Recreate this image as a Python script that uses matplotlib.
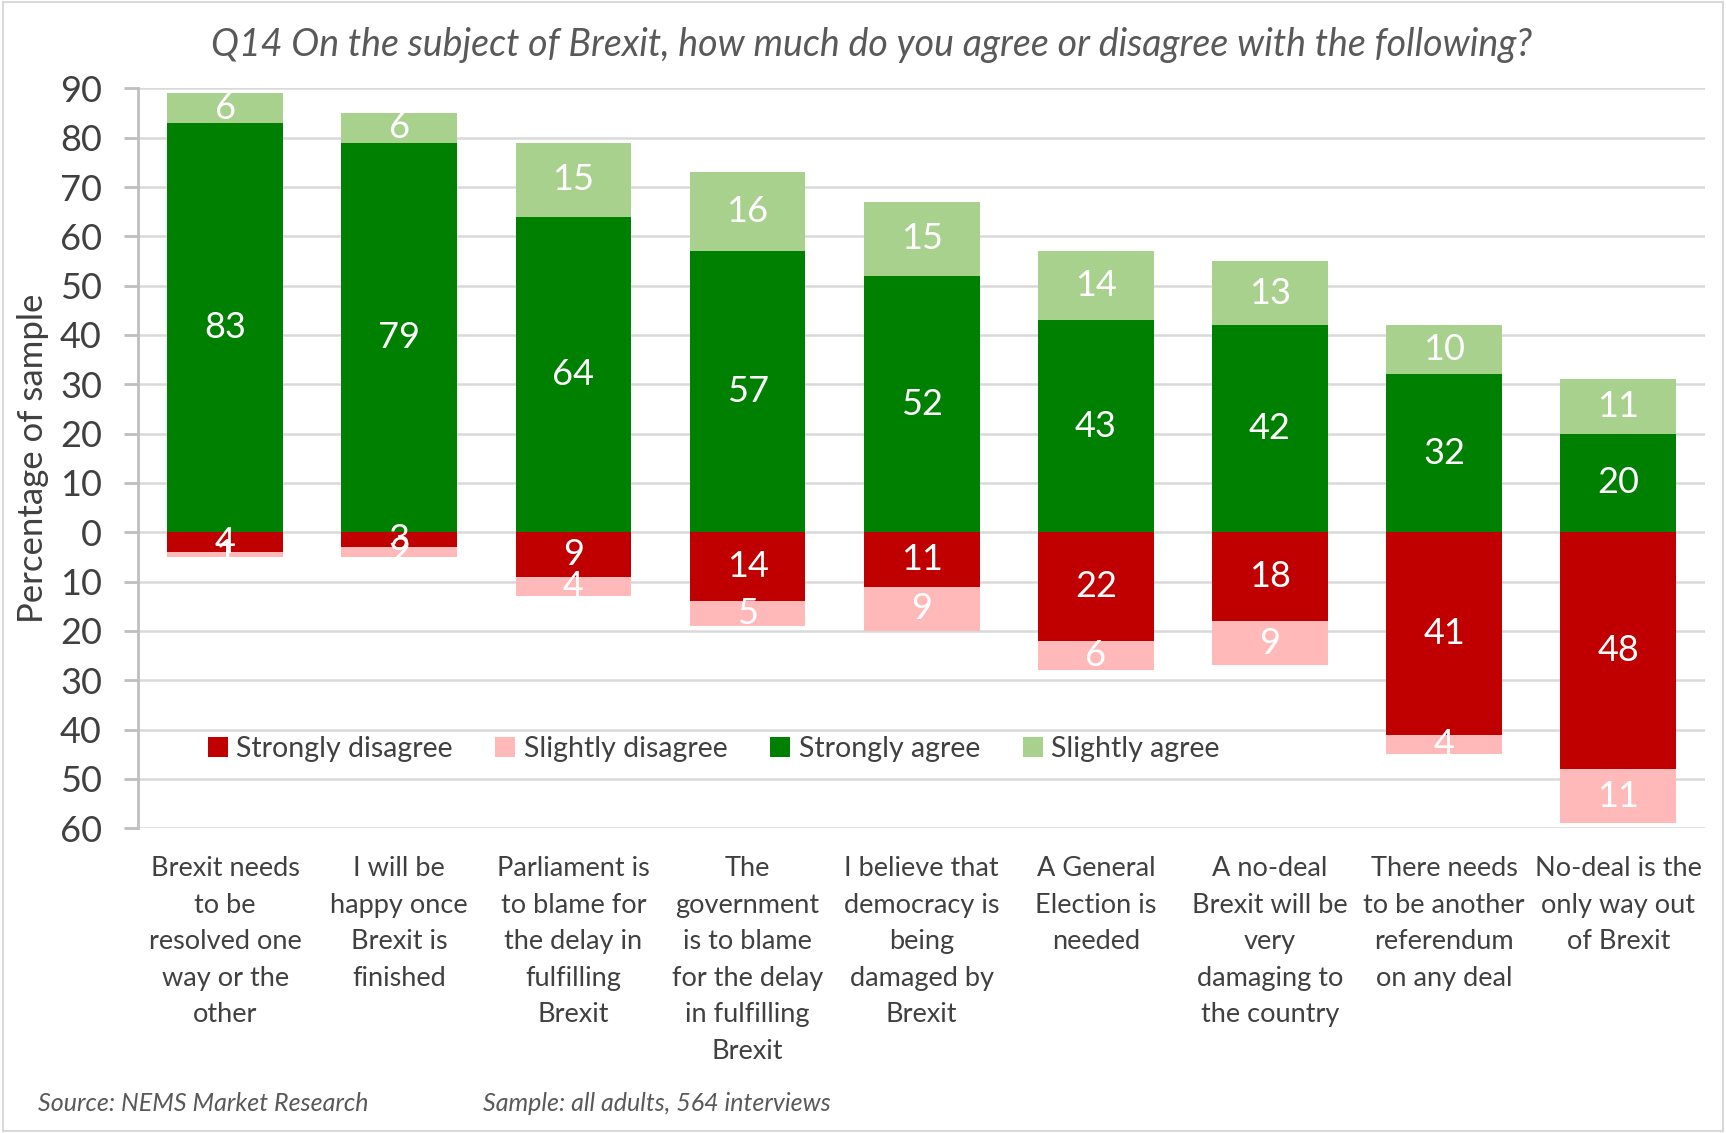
import numpy as np
import matplotlib.pyplot as plt
from matplotlib.patches import Rectangle

plt.rcParams['font.family'] = ['Lato', 'DejaVu Sans']

categories = [
    "Brexit needs\nto be\nresolved one\nway or the\nother",
    "I will be\nhappy once\nBrexit is\nfinished",
    "Parliament is\nto blame for\nthe delay in\nfulfilling\nBrexit",
    "The\ngovernment\nis to blame\nfor the delay\nin fulfilling\nBrexit",
    "I believe that\ndemocracy is\nbeing\ndamaged by\nBrexit",
    "A General\nElection is\nneeded",
    "A no-deal\nBrexit will be\nvery\ndamaging to\nthe country",
    "There needs\nto be another\nreferendum\non any deal",
    "No-deal is the\nonly way out\nof Brexit",
]
strongly_agree = [83, 79, 64, 57, 52, 43, 42, 32, 20]
slightly_agree = [6, 6, 15, 16, 15, 14, 13, 10, 11]
strongly_disagree = [4, 3, 9, 14, 11, 22, 18, 41, 48]
slightly_disagree = [1, 2, 4, 5, 9, 6, 9, 4, 11]

c_sd = '#C00000'
c_sld = '#FFB9B9'
c_sa = '#008000'
c_sla = '#A9D18E'

fig = plt.figure(figsize=(17.26, 11.33), dpi=100)
ax = fig.add_axes([0.080, 0.269, 0.908, 0.653])

x = np.arange(len(categories))
w = 0.665
sa = np.array(strongly_agree)
sla = np.array(slightly_agree)
sd = np.array(strongly_disagree)
sld = np.array(slightly_disagree)

ax.bar(x, -sd, w, color=c_sd, label='Strongly disagree', zorder=3)
ax.bar(x, -sld, w, bottom=-sd, color=c_sld, label='Slightly disagree', zorder=3)
ax.bar(x, sa, w, color=c_sa, label='Strongly agree', zorder=3)
ax.bar(x, sla, w, bottom=sa, color=c_sla, label='Slightly agree', zorder=3)

lab_kw = dict(ha='center', va='center', color='white', fontsize=26, zorder=5)
for i in range(len(x)):
    ax.text(x[i], -sd[i] - sld[i] / 2, str(sld[i]), **lab_kw)
    ax.text(x[i], -sd[i] / 2, str(sd[i]), **lab_kw)
    ax.text(x[i], sa[i] / 2, str(sa[i]), **lab_kw)
    ax.text(x[i], sa[i] + sla[i] / 2, str(sla[i]), **lab_kw)

ax.set_xlim(-0.5, len(x) - 0.5)
ax.set_ylim(-60, 90)
yt = np.arange(-60, 91, 10)
ax.set_yticks(yt)
ax.set_yticklabels([str(abs(v)) for v in yt], fontsize=26, color='#404040')
ax.set_xticks(x)
ax.set_xticklabels(categories, fontsize=19.5, color='#404040', linespacing=1.58)
ax.tick_params(axis='x', length=0, pad=20)
ax.tick_params(axis='y', length=10, width=2, color='#BFBFBF', pad=16)
ax.yaxis.grid(True, color='#D9D9D9', linewidth=1.8, zorder=0)
for s in ['top', 'right', 'bottom']:
    ax.spines[s].set_visible(False)
ax.spines['left'].set_color('#BFBFBF')
ax.spines['left'].set_linewidth(2)
ax.set_ylabel('Percentage of sample', fontsize=25, color='#404040', labelpad=8)

ax.legend(loc='center left', bbox_to_anchor=(0.028, 0.107), ncol=4, frameon=False,
          fontsize=20.5, handlelength=0.7, handleheight=0.7, handletextpad=0.3,
          columnspacing=1.5, labelcolor='#404040')

fig.text(0.505, 0.960, 'Q14 On the subject of Brexit, how much do you agree or disagree with the following?',
         ha='center', va='center', fontsize=27, style='italic', color='#595959')
fig.text(0.022, 0.026, 'Source: NEMS Market Research', fontsize=18, style='italic', color='#595959', va='center')
fig.text(0.280, 0.026, 'Sample: all adults, 564 interviews', fontsize=18, style='italic', color='#595959', va='center')

fig.patches.append(Rectangle((0.002, 0.002), 0.996, 0.996, transform=fig.transFigure,
                             fill=False, edgecolor='#D9D9D9', linewidth=1.5))

fig.savefig('out.png', dpi=100)
